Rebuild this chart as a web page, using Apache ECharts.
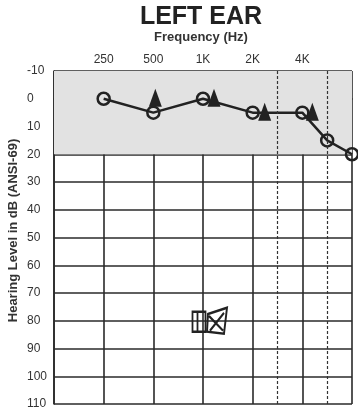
<!DOCTYPE html>
<html>
<head>
<meta charset="utf-8">
<script src="https://cdn.jsdelivr.net/npm/echarts@6/dist/echarts.min.js"></script>
<style>
  html, body { margin: 0; padding: 0; background: #ffffff; }
  #chart { width: 358px; height: 408px; }
</style>
</head>
<body>
<div id="chart"></div>
<script>
// frequency tick labels (octave positions 0..6 = 125 Hz .. 8 kHz)
const freqLabels = ["", "250", "500", "1K", "2K", "4K", ""];
const freqPos = { 250: 1, 500: 2, 1000: 3, 2000: 4, 3000: 4.5, 4000: 5, 6000: 5.5, 8000: 6 };
const midOctaves = [3000, 6000];

// air conduction (circles)
const airFreqs = [250, 500, 1000, 2000, 4000, 6000, 8000];
const airDb = [0, 5, 0, 5, 5, 15, 20];

// triangles
const boneFreqs = [500, 1000, 2000, 4000];
const boneDb = [0, 0, 5, 5];
const boneShift = [2, 11, 12, 10];

// hand-drawn marks near 80 dB at 1K
const markFreqs = [1000, 1000];
const markDb = [80, 80];

const chart = echarts.init(document.getElementById("chart"));
const ink = "#222222";

chart.setOption({
  animation: false,
  title: [
    {
      text: "LEFT EAR",
      left: 201,
      top: 5,
      textAlign: "center",
      padding: 0,
      textStyle: { fontFamily: "Liberation Sans", fontSize: 25, fontWeight: "bold", color: ink }
    },
    {
      text: "Frequency (Hz)",
      left: 201,
      top: 31,
      textAlign: "center",
      padding: 0,
      textStyle: { fontFamily: "Liberation Sans", fontSize: 13, fontWeight: "bold", color: "#333" }
    }
  ],
  grid: { left: 54, right: 6, top: 71, bottom: 4, outerBoundsMode: "none" },
  xAxis: {
    type: "value",
    position: "top",
    min: 0,
    max: 6,
    interval: 1,
    axisLine: { show: true, lineStyle: { color: "#2a2a2a", width: 1.6 } },
    axisTick: { show: false },
    axisLabel: {
      margin: 5,
      color: "#333",
      fontFamily: "Liberation Sans",
      fontSize: 12,
      formatter: v => freqLabels[v] || ""
    },
    splitLine: { show: true, lineStyle: { color: "#2a2a2a", width: 1.6 } }
  },
  yAxis: {
    type: "value",
    inverse: true,
    min: -10,
    max: 110,
    interval: 10,
    name: "Hearing Level in dB (ANSI-69)",
    nameLocation: "middle",
    nameGap: 34,
    nameRotate: 90,
    nameMoveOverlap: false,
    nameTextStyle: {
      fontFamily: "Liberation Sans", fontSize: 13, fontWeight: "bold", color: "#333",
      padding: [0, 0, 0, 14]
    },
    axisLine: { show: true, lineStyle: { color: "#2a2a2a", width: 1.6 } },
    axisTick: { show: false },
    axisLabel: { margin: 27, align: "left", color: "#333", fontFamily: "Liberation Sans", fontSize: 12 },
    splitLine: { show: true, lineStyle: { color: "#2a2a2a", width: 1.6 } }
  },
  series: [
    {
      type: "line",
      z: 3,
      data: airFreqs.map((f, i) => [freqPos[f], airDb[i]]),
      symbol: "circle",
      symbolSize: 12,
      itemStyle: { color: "rgba(0,0,0,0)", borderColor: ink, borderWidth: 2.5 },
      lineStyle: { color: ink, width: 2.5 },
      markArea: {
        silent: true,
        z: 1,
        itemStyle: { color: "#e2e2e2" },
        data: [[{ yAxis: -10 }, { yAxis: 20 }]]
      },
      markLine: {
        silent: true,
        symbol: "none",
        label: { show: false },
        lineStyle: { color: "#333", type: [3, 2], width: 1.2 },
        data: midOctaves.map(f => ({ xAxis: freqPos[f] }))
      }
    },
    {
      type: "scatter",
      z: 4,
      data: boneFreqs.map((f, i) => ({
        value: [freqPos[f], boneDb[i]],
        symbolOffset: [boneShift[i], -1]
      })),
      symbol: "triangle",
      symbolSize: [13, 18],
      itemStyle: { color: ink, opacity: 1 }
    },
    {
      type: "scatter",
      z: 4,
      data: [
        {
          value: [freqPos[markFreqs[0]], markDb[0]],
          symbol: "path://M0,0H13V20H0Z M5,1V19",
          symbolSize: [13, 20],
          symbolOffset: [-4, 1]
        },
        {
          value: [freqPos[markFreqs[1]], markDb[1]],
          symbol: "path://M2,6L21,0L18,25L1,23Z M3,8L17,22 M18,5L4,22",
          symbolSize: [20, 26],
          symbolOffset: [14, 0]
        }
      ],
      itemStyle: { color: "rgba(0,0,0,0)", borderColor: ink, borderWidth: 2.2, opacity: 1 }
    }
  ]
});
</script>
</body>
</html>
